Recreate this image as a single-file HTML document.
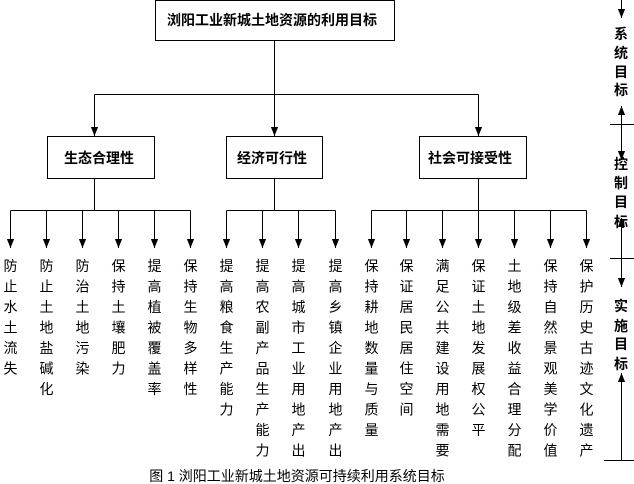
<!DOCTYPE html>
<html><head><meta charset="utf-8"><style>
html,body{margin:0;padding:0;background:#fff;width:634px;height:484px;overflow:hidden}
svg{display:block}
text{font-family:"Liberation Sans","Noto Sans CJK SC","WenQuanYi Zen Hei",sans-serif;fill:#000}
</style></head><body>
<svg width="634" height="484" viewBox="0 0 634 484" xmlns="http://www.w3.org/2000/svg">
<defs><marker id="a" viewBox="0 0 10 10" refX="10" refY="5" markerWidth="9" markerHeight="9" markerUnits="userSpaceOnUse" orient="auto"><path d="M0,1 L10,5 L0,9 z" fill="#000"/></marker></defs>
<g stroke="#000" stroke-width="1" fill="none">
<rect x="155.5" y="0.5" width="239" height="40"/>
<rect x="47.5" y="136.5" width="107" height="42"/>
<rect x="226.5" y="136.5" width="96" height="42"/>
<rect x="419.5" y="136.5" width="107" height="42"/>
<line x1="274.5" y1="41" x2="274.5" y2="94.5"/>
<line x1="94.5" y1="94.5" x2="478.5" y2="94.5"/>
<line x1="94.5" y1="94.5" x2="94.5" y2="136" marker-end="url(#a)"/>
<line x1="274.5" y1="94.5" x2="274.5" y2="136" marker-end="url(#a)"/>
<line x1="478.5" y1="94.5" x2="478.5" y2="136" marker-end="url(#a)"/>
<line x1="94.5" y1="179" x2="94.5" y2="210.5"/>
<line x1="274.5" y1="179" x2="274.5" y2="210.5"/>
<line x1="478.5" y1="179" x2="478.5" y2="210.5"/>
<line x1="10.5" y1="210.5" x2="190.5" y2="210.5"/>
<line x1="226.5" y1="210.5" x2="335.5" y2="210.5"/>
<line x1="371.5" y1="210.5" x2="586.5" y2="210.5"/>
<g marker-end="url(#a)">
<line x1="10.5" y1="210.5" x2="10.5" y2="248"/><line x1="46.5" y1="210.5" x2="46.5" y2="248"/><line x1="82.5" y1="210.5" x2="82.5" y2="248"/><line x1="118.5" y1="210.5" x2="118.5" y2="248"/><line x1="154.5" y1="210.5" x2="154.5" y2="248"/><line x1="190.5" y1="210.5" x2="190.5" y2="248"/>
<line x1="226.5" y1="210.5" x2="226.5" y2="248"/><line x1="262.5" y1="210.5" x2="262.5" y2="248"/><line x1="298.5" y1="210.5" x2="298.5" y2="248"/><line x1="335.5" y1="210.5" x2="335.5" y2="248"/>
<line x1="371.5" y1="210.5" x2="371.5" y2="248"/><line x1="406.5" y1="210.5" x2="406.5" y2="248"/><line x1="442.5" y1="210.5" x2="442.5" y2="248"/><line x1="478.5" y1="210.5" x2="478.5" y2="248"/><line x1="514.5" y1="210.5" x2="514.5" y2="248"/><line x1="550.5" y1="210.5" x2="550.5" y2="248"/><line x1="586.5" y1="210.5" x2="586.5" y2="248"/>
</g>
<line x1="621.5" y1="0" x2="621.5" y2="18" marker-end="url(#a)"/>
<line x1="621.5" y1="124" x2="621.5" y2="106" marker-end="url(#a)"/>
<line x1="621.5" y1="124" x2="621.5" y2="160" marker-end="url(#a)"/>
<line x1="621.5" y1="258" x2="621.5" y2="218" marker-end="url(#a)"/>
<line x1="621.5" y1="258" x2="621.5" y2="287" marker-end="url(#a)"/>
<line x1="621.5" y1="460" x2="621.5" y2="373" marker-end="url(#a)"/>
<line x1="610" y1="124.5" x2="634" y2="124.5"/>
<line x1="610" y1="258.5" x2="634" y2="258.5"/>
<line x1="604" y1="460.5" x2="634" y2="460.5"/>
</g>
<g font-weight="bold" font-size="14" text-anchor="middle">
<text x="272" y="25">浏阳工业新城土地资源的利用目标</text>
<text x="99" y="163">生态合理性</text>
<text x="272" y="163">经济可行性</text>
<text x="470" y="163">社会可接受性</text>
</g>
<g font-weight="bold" font-size="14" text-anchor="middle">
<text x="621" y="39">系</text><text x="621" y="58">统</text><text x="621" y="77">目</text><text x="621" y="95">标</text>
<text x="621" y="169">控</text><text x="621" y="188">制</text><text x="621" y="207">目</text><text x="621" y="227">标</text>
<text x="621" y="311">实</text><text x="621" y="331">施</text><text x="621" y="349">目</text><text x="621" y="369">标</text>
</g>
<g font-size="14" text-anchor="middle">
<text x="10.5" y="271"><tspan x="10.5">防</tspan><tspan x="10.5" dy="20.5">止</tspan><tspan x="10.5" dy="20.5">水</tspan><tspan x="10.5" dy="20.5">土</tspan><tspan x="10.5" dy="20.5">流</tspan><tspan x="10.5" dy="20.5">失</tspan></text>
<text x="46.5" y="271"><tspan x="46.5">防</tspan><tspan x="46.5" dy="20.5">止</tspan><tspan x="46.5" dy="20.5">土</tspan><tspan x="46.5" dy="20.5">地</tspan><tspan x="46.5" dy="20.5">盐</tspan><tspan x="46.5" dy="20.5">碱</tspan><tspan x="46.5" dy="20.5">化</tspan></text>
<text x="82.5" y="271"><tspan x="82.5">防</tspan><tspan x="82.5" dy="20.5">治</tspan><tspan x="82.5" dy="20.5">土</tspan><tspan x="82.5" dy="20.5">地</tspan><tspan x="82.5" dy="20.5">污</tspan><tspan x="82.5" dy="20.5">染</tspan></text>
<text x="118.5" y="271"><tspan x="118.5">保</tspan><tspan x="118.5" dy="20.5">持</tspan><tspan x="118.5" dy="20.5">土</tspan><tspan x="118.5" dy="20.5">壤</tspan><tspan x="118.5" dy="20.5">肥</tspan><tspan x="118.5" dy="20.5">力</tspan></text>
<text x="154.5" y="271"><tspan x="154.5">提</tspan><tspan x="154.5" dy="20.5">高</tspan><tspan x="154.5" dy="20.5">植</tspan><tspan x="154.5" dy="20.5">被</tspan><tspan x="154.5" dy="20.5">覆</tspan><tspan x="154.5" dy="20.5">盖</tspan><tspan x="154.5" dy="20.5">率</tspan></text>
<text x="190.5" y="271"><tspan x="190.5">保</tspan><tspan x="190.5" dy="20.5">持</tspan><tspan x="190.5" dy="20.5">生</tspan><tspan x="190.5" dy="20.5">物</tspan><tspan x="190.5" dy="20.5">多</tspan><tspan x="190.5" dy="20.5">样</tspan><tspan x="190.5" dy="20.5">性</tspan></text>
<text x="226.5" y="271"><tspan x="226.5">提</tspan><tspan x="226.5" dy="20.5">高</tspan><tspan x="226.5" dy="20.5">粮</tspan><tspan x="226.5" dy="20.5">食</tspan><tspan x="226.5" dy="20.5">生</tspan><tspan x="226.5" dy="20.5">产</tspan><tspan x="226.5" dy="20.5">能</tspan><tspan x="226.5" dy="20.5">力</tspan></text>
<text x="262.5" y="271"><tspan x="262.5">提</tspan><tspan x="262.5" dy="20.5">高</tspan><tspan x="262.5" dy="20.5">农</tspan><tspan x="262.5" dy="20.5">副</tspan><tspan x="262.5" dy="20.5">产</tspan><tspan x="262.5" dy="20.5">品</tspan><tspan x="262.5" dy="20.5">生</tspan><tspan x="262.5" dy="20.5">产</tspan><tspan x="262.5" dy="20.5">能</tspan><tspan x="262.5" dy="20.5">力</tspan></text>
<text x="298.5" y="271"><tspan x="298.5">提</tspan><tspan x="298.5" dy="20.5">高</tspan><tspan x="298.5" dy="20.5">城</tspan><tspan x="298.5" dy="20.5">市</tspan><tspan x="298.5" dy="20.5">工</tspan><tspan x="298.5" dy="20.5">业</tspan><tspan x="298.5" dy="20.5">用</tspan><tspan x="298.5" dy="20.5">地</tspan><tspan x="298.5" dy="20.5">产</tspan><tspan x="298.5" dy="20.5">出</tspan></text>
<text x="335.5" y="271"><tspan x="335.5">提</tspan><tspan x="335.5" dy="20.5">高</tspan><tspan x="335.5" dy="20.5">乡</tspan><tspan x="335.5" dy="20.5">镇</tspan><tspan x="335.5" dy="20.5">企</tspan><tspan x="335.5" dy="20.5">业</tspan><tspan x="335.5" dy="20.5">用</tspan><tspan x="335.5" dy="20.5">地</tspan><tspan x="335.5" dy="20.5">产</tspan><tspan x="335.5" dy="20.5">出</tspan></text>
<text x="371.5" y="271"><tspan x="371.5">保</tspan><tspan x="371.5" dy="20.5">持</tspan><tspan x="371.5" dy="20.5">耕</tspan><tspan x="371.5" dy="20.5">地</tspan><tspan x="371.5" dy="20.5">数</tspan><tspan x="371.5" dy="20.5">量</tspan><tspan x="371.5" dy="20.5">与</tspan><tspan x="371.5" dy="20.5">质</tspan><tspan x="371.5" dy="20.5">量</tspan></text>
<text x="406.5" y="271"><tspan x="406.5">保</tspan><tspan x="406.5" dy="20.5">证</tspan><tspan x="406.5" dy="20.5">居</tspan><tspan x="406.5" dy="20.5">民</tspan><tspan x="406.5" dy="20.5">居</tspan><tspan x="406.5" dy="20.5">住</tspan><tspan x="406.5" dy="20.5">空</tspan><tspan x="406.5" dy="20.5">间</tspan></text>
<text x="442.5" y="271"><tspan x="442.5">满</tspan><tspan x="442.5" dy="20.5">足</tspan><tspan x="442.5" dy="20.5">公</tspan><tspan x="442.5" dy="20.5">共</tspan><tspan x="442.5" dy="20.5">建</tspan><tspan x="442.5" dy="20.5">设</tspan><tspan x="442.5" dy="20.5">用</tspan><tspan x="442.5" dy="20.5">地</tspan><tspan x="442.5" dy="20.5">需</tspan><tspan x="442.5" dy="20.5">要</tspan></text>
<text x="478.5" y="271"><tspan x="478.5">保</tspan><tspan x="478.5" dy="20.5">证</tspan><tspan x="478.5" dy="20.5">土</tspan><tspan x="478.5" dy="20.5">地</tspan><tspan x="478.5" dy="20.5">发</tspan><tspan x="478.5" dy="20.5">展</tspan><tspan x="478.5" dy="20.5">权</tspan><tspan x="478.5" dy="20.5">公</tspan><tspan x="478.5" dy="20.5">平</tspan></text>
<text x="514.5" y="271"><tspan x="514.5">土</tspan><tspan x="514.5" dy="20.5">地</tspan><tspan x="514.5" dy="20.5">级</tspan><tspan x="514.5" dy="20.5">差</tspan><tspan x="514.5" dy="20.5">收</tspan><tspan x="514.5" dy="20.5">益</tspan><tspan x="514.5" dy="20.5">合</tspan><tspan x="514.5" dy="20.5">理</tspan><tspan x="514.5" dy="20.5">分</tspan><tspan x="514.5" dy="20.5">配</tspan></text>
<text x="550.5" y="271"><tspan x="550.5">保</tspan><tspan x="550.5" dy="20.5">持</tspan><tspan x="550.5" dy="20.5">自</tspan><tspan x="550.5" dy="20.5">然</tspan><tspan x="550.5" dy="20.5">景</tspan><tspan x="550.5" dy="20.5">观</tspan><tspan x="550.5" dy="20.5">美</tspan><tspan x="550.5" dy="20.5">学</tspan><tspan x="550.5" dy="20.5">价</tspan><tspan x="550.5" dy="20.5">值</tspan></text>
<text x="586.5" y="271"><tspan x="586.5">保</tspan><tspan x="586.5" dy="20.5">护</tspan><tspan x="586.5" dy="20.5">历</tspan><tspan x="586.5" dy="20.5">史</tspan><tspan x="586.5" dy="20.5">古</tspan><tspan x="586.5" dy="20.5">迹</tspan><tspan x="586.5" dy="20.5">文</tspan><tspan x="586.5" dy="20.5">化</tspan><tspan x="586.5" dy="20.5">遗</tspan><tspan x="586.5" dy="20.5">产</tspan></text>
</g>
<text x="297" y="481" font-size="14" text-anchor="middle">图 1 浏阳工业新城土地资源可持续利用系统目标</text>
</svg>
</body></html>
